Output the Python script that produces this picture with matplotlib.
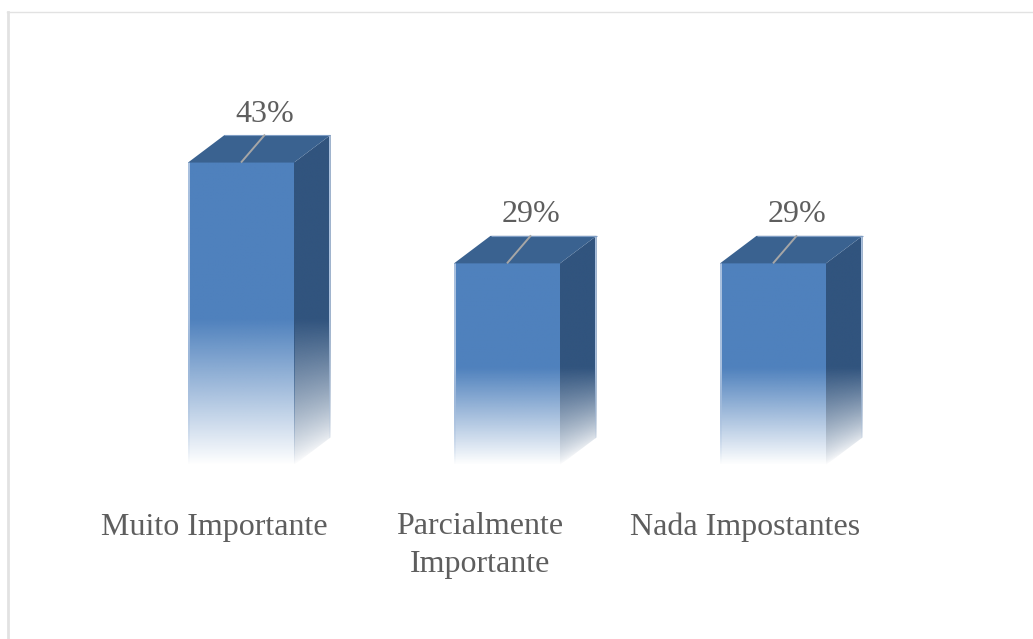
import numpy as np
import matplotlib
matplotlib.use("Agg")
import matplotlib.pyplot as plt
from matplotlib.patches import Polygon
from matplotlib.colors import to_rgb

categories = ["Muito Importante", "Parcialmente\nImportante", "Nada Impostantes"]
values = [42.9, 28.6, 28.6]
value_labels = ["43%", "29%", "29%"]

FRONT = "#4F81BD"
TOP = "#3A6290"
SIDE = "#31547E"
EDGE = "#A9C0DE"
TEXT = "#5E5E5E"
FRAME = "#E2E2E2"
FONT = "Liberation Serif"

W, H = 1033, 639
plt.rcParams["font.family"] = FONT
fig = plt.figure(figsize=(W / 100, H / 100), dpi=100, facecolor="white")

# axes frame: left edge x=7.5 px, top edge y=11.5 px (from image top)
L, T = 7.5, 11.5
ax = fig.add_axes([L / W, 0, 1 - L / W, (H - T) / H])
PX_X = 266.0   # px per category
PX_Y = 7.05    # px per percent
X0, Y0 = 241.0, 465.0  # px position of category 0, value 0
BAR_W = 106 / PX_X
DX, DY = 36.5 / PX_X, 27.5 / PX_Y
FADE = 0.48
EW = 1.5 / PX_X
ax.set_facecolor("white")


def gradient_image(color, alpha):
    img = np.zeros(alpha.shape + (4,))
    img[..., :3] = to_rgb(color)
    img[..., 3] = np.clip(alpha, 0, 1)
    return img


for i, v in enumerate(values):
    x0, x1 = i - BAR_W / 2, i + BAR_W / 2
    fade_h = FADE * v

    # front face: solid above the fade height, fading to white at the base
    ys = np.linspace(0, v, 300)
    alpha = np.clip(ys / fade_h, 0, 1)[:, None]
    ax.imshow(gradient_image(FRONT, alpha), extent=[x0, x1, 0, v], origin="lower",
              aspect="auto", interpolation="bilinear", zorder=2)
    # light left edge of the front face
    ax.imshow(gradient_image(EDGE, alpha), extent=[x0, x0 + EW, 0, v], origin="lower",
              aspect="auto", interpolation="bilinear", zorder=2.1)

    # side face: fade partly follows the slanted base of the parallelogram
    gx, gy = np.meshgrid(np.linspace(0, 1, 60), np.linspace(0, v + DY, 400))
    base = 0.7 * DY * gx
    side_alpha = np.clip((gy - base) / (fade_h - base), 0, 1) ** 0.8
    im = ax.imshow(gradient_image(SIDE, side_alpha), extent=[x1, x1 + DX, 0, v + DY],
                   origin="lower", aspect="auto", interpolation="bilinear", zorder=2)
    side = Polygon([(x1, 0), (x1 + DX, DY), (x1 + DX, v + DY), (x1, v)],
                   closed=True, transform=ax.transData, fc="none", ec="none")
    ax.add_patch(side)
    im.set_clip_path(side)
    # light right edge of the side face
    edge = ax.imshow(gradient_image(EDGE, side_alpha[:, -2:]),
                     extent=[x1 + DX - EW, x1 + DX, 0, v + DY], origin="lower",
                     aspect="auto", interpolation="bilinear", zorder=2.1)
    edge.set_clip_path(side)

    # top face with a light back edge
    ax.add_patch(Polygon([(x0, v), (x1, v), (x1 + DX, v + DY), (x0 + DX, v + DY)],
                         closed=True, fc=TOP, ec="none", zorder=3))
    ax.plot([x0 + DX, x1 + DX], [v + DY, v + DY], color="#7F9DC4", lw=0.8, zorder=3.1,
            solid_capstyle="butt")

    # leader line and value label
    ax.plot([i, i + 24 / PX_X], [v, v + 28 / PX_Y], color="#A6A6A6", lw=1.4, zorder=4,
            solid_capstyle="butt")
    ax.text(i + 24 / PX_X, v + 48.5 / PX_Y, value_labels[i], ha="center", va="center",
            fontsize=23, color=TEXT, zorder=5)

label_x = [214, 480, 745.5]
for i, c in enumerate(categories):
    ax.text((label_x[i] - X0) / PX_X, -47.5 / PX_Y, c, ha="center", va="top",
            fontsize=23, color=TEXT, linespacing=1.38)

ax.set_xlim((L - X0) / PX_X, (W - X0) / PX_X)
ax.set_ylim((Y0 - H) / PX_Y, (Y0 - T) / PX_Y)
ax.set_xticks([])
ax.set_yticks([])
for s in ("right", "bottom"):
    ax.spines[s].set_visible(False)
for s in ("left", "top"):
    ax.spines[s].set_color(FRAME)
ax.spines["left"].set_linewidth(2.0)
ax.spines["top"].set_linewidth(1.0)

fig.savefig("out.png", dpi=100, facecolor="white")
